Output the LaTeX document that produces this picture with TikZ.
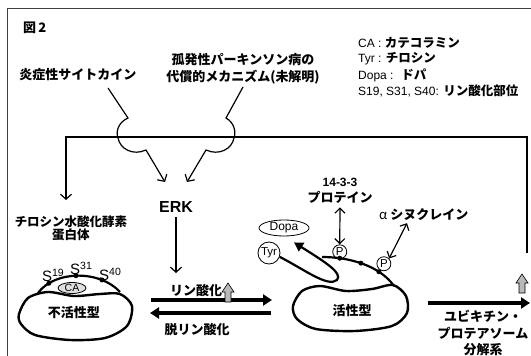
\documentclass[tikz,border=0pt]{standalone}
\usepackage{fontspec}
\setmainfont{Liberation Sans}
\IfFontExistsTF{Noto Sans CJK JP Black}
  {\newfontfamily\jp{Noto Sans CJK JP}[BoldFont={Noto Sans CJK JP Black}]}
  {\newfontfamily\jp{Noto Sans CJK JP}}
\usetikzlibrary{arrows.meta,shapes.geometric}

\newcommand{\ja}[1]{{\jp\bfseries\fontsize{12.5}{14}\selectfont #1}}

\begin{document}
\begin{tikzpicture}[x=1pt,y=-1pt,
jl/.style={font=\jp\bfseries\fontsize{13}{17}\selectfont, align=center, inner sep=1pt},
lg/.style={font=\fontsize{12}{13}\selectfont, inner sep=1pt},
body/.style={line width=2.4pt},
memb/.style={line width=2.2pt},
arr/.style={line width=1.2pt, -{Straight Barb[length=5pt,width=11pt]}},
dbl/.style={line width=1.2pt, {Straight Barb[length=5pt,width=10pt]}-{Straight Barb[length=5pt,width=10pt]}},
fat/.style={line width=4pt, -{Triangle[length=9pt,width=11pt]}},
pcirc/.style={circle, draw, line width=0.8pt, inner sep=0pt, minimum size=14pt, font=\fontsize{11.5}{11}\selectfont},
slab/.style={inner sep=0pt, font=\fontsize{15}{15}\selectfont},
grayup/.pic={\draw[fill=gray!55, line width=0.6pt] (-3,0) -- (-3,-10) -- (-6,-10) -- (0,-19) -- (6,-10) -- (3,-10) -- (3,0) -- cycle;}]

\useasboundingbox (0,0) rectangle (531,356);
\draw[line width=0.8pt, black!75] (7,356) -- (7,8) -- (531,8);

\node[jl, anchor=west] (fig) at (22,28) {図\,2};

% legend
\node[lg, anchor=west] (lgca) at (357,43) {CA : \ja{カテコラミン}};
\node[lg, anchor=west] (lgtyr) at (357,59) {Tyr : \ja{チロシン}};
\node[lg, anchor=west] (lgdopa) at (357,75) {Dopa : \ \ja{ドパ}};
\node[lg, anchor=west] (lgser) at (357,91) {S19, S31, S40: \ja{リン酸化部位}};

% inputs to ERK
\node[jl] (cyto) at (78,75) {炎症性サイトカイン};
\node[jl] (park) at (243,69) {孤発性パーキンソン病の\\代償的メカニズム(未解明)};
\node[font=\bfseries\fontsize{16}{16}\selectfont, inner sep=1pt] (erk) at (176,207) {ERK};

\draw[arr] (108,88) -- (128,118) .. controls (117,123) and (116,133) .. (118,138) .. controls (120,149) and (133,156) .. (146,150) -- (165,182);
\draw[arr] (243,87) -- (226,118) .. controls (235,123) and (236,133) .. (234,138) .. controls (232,149) and (219,156) .. (206,150) -- (187,182);

% feedback from degradation
\coordinate (degtop) at (527,253);
\coordinate (thtop) at (66,200);
\draw[arr] (degtop) |- (66,137) -- (thtop);

\node[jl, font=\jp\bfseries\fontsize{12.5}{13}\selectfont] (th) at (71,228) {チロシン水酸化酵素\\蛋白体};

% inactive form
\draw[body] plot[smooth cycle] coordinates {(19,314) (28,298) (48,292) (74,296) (100,294) (120,294) (132,306) (127,326) (105,338) (70,340) (35,335) (21,324)};
\draw[memb] (38,293) .. controls (55,270) and (100,270) .. (120,292) coordinate[pos=.17] (s19) coordinate[pos=.48] (s31) coordinate[pos=.76] (s40);
\node[ellipse, draw, fill=gray!25, line width=0.8pt, inner sep=0pt, minimum width=28pt, minimum height=11pt, font=\fontsize{10.5}{10}\selectfont] (ca) at (72,288) {CA};
\foreach \s in {s19,s31,s40} \fill (\s) circle (2.5);
\node[slab, anchor=south west] at ([xshift=-7pt,yshift=1pt]s19) {S\textsuperscript{19}};
\node[slab, anchor=south west] at ([xshift=-6pt,yshift=1pt]s31) {S\textsuperscript{31}};
\node[slab, anchor=south west] at ([xshift=-3pt,yshift=-1pt]s40) {S\textsuperscript{40}};
\node[jl] (inact) at (74,313) {不活性型};

% phosphorylation / dephosphorylation
\draw[arr] ([yshift=-3pt]erk.south) -- (176,273);
\draw[fat] (151,300) -- (272,300);
\draw[fat] (271,313) -- (150,313);
\node[jl] (phos) at (196,291) {リン酸化};
\pic at (228,302) {grayup};
\node[jl] (dephos) at (197,330) {脱リン酸化};

% active form
\draw[body] plot[smooth cycle] coordinates {(293,306) (302,291) (320,286) (346,291) (372,289) (393,285) (406,296) (407,313) (392,326) (355,331) (316,329) (297,319)};
\draw[memb] (322,257) .. controls (350,257) and (380,266) .. (394,286) coordinate[pos=.21] (d1) coordinate[pos=.47] (d2) coordinate[pos=.72] (d3);
\foreach \s in {d1,d2,d3} \fill (\s) circle (2.5);
\node[pcirc, above=-1pt] (p1) at (d1) {P};
\node[pcirc] (p2) at ([xshift=5pt,yshift=8pt]d3) {P};
\node[jl] (act) at (352,311) {活性型};

\node[font=\bfseries\fontsize{12}{12}\selectfont, inner sep=1pt] (ftt) at (340,182) {14-3-3};
\node[jl] (prot) at (340,197) {プロテイン};
\draw[dbl] ([yshift=-3pt]prot.south) -- (p1.north);
\node[jl, anchor=west] (asyn) at (378,215) {{\mdseries\fontsize{13}{12}\selectfont α} シヌクレイン};
\draw[dbl] ([xshift=29pt,yshift=-1pt]asyn.south west) -- (p2.north east);

% Tyr -> Dopa
\node[ellipse, draw, line width=0.8pt, minimum width=50pt, minimum height=16pt, inner sep=0pt, font=\fontsize{12}{12}\selectfont] (dopa) at (284,228) {Dopa};
\node[circle, draw, line width=0.8pt, minimum size=22pt, inner sep=0pt, font=\fontsize{11.5}{12}\selectfont] (tyr) at (269,253) {Tyr};
\draw[line width=2.2pt, -{Triangle[length=9pt,width=10pt]}] (tyr.-20) .. controls (302,268) and (328,288) .. (337,280) .. controls (343,273) and (325,262) .. ([xshift=10pt,yshift=-6pt]dopa.south);

% degradation
\draw[fat] (428,303) -- (530,303);
\pic at (522,293) {grayup};
\node[jl, font=\jp\bfseries\fontsize{13}{16.5}\selectfont] (deg) at (483,333) {ユビキチン・\\プロテアソーム\\分解系};
\end{tikzpicture}
\end{document}
